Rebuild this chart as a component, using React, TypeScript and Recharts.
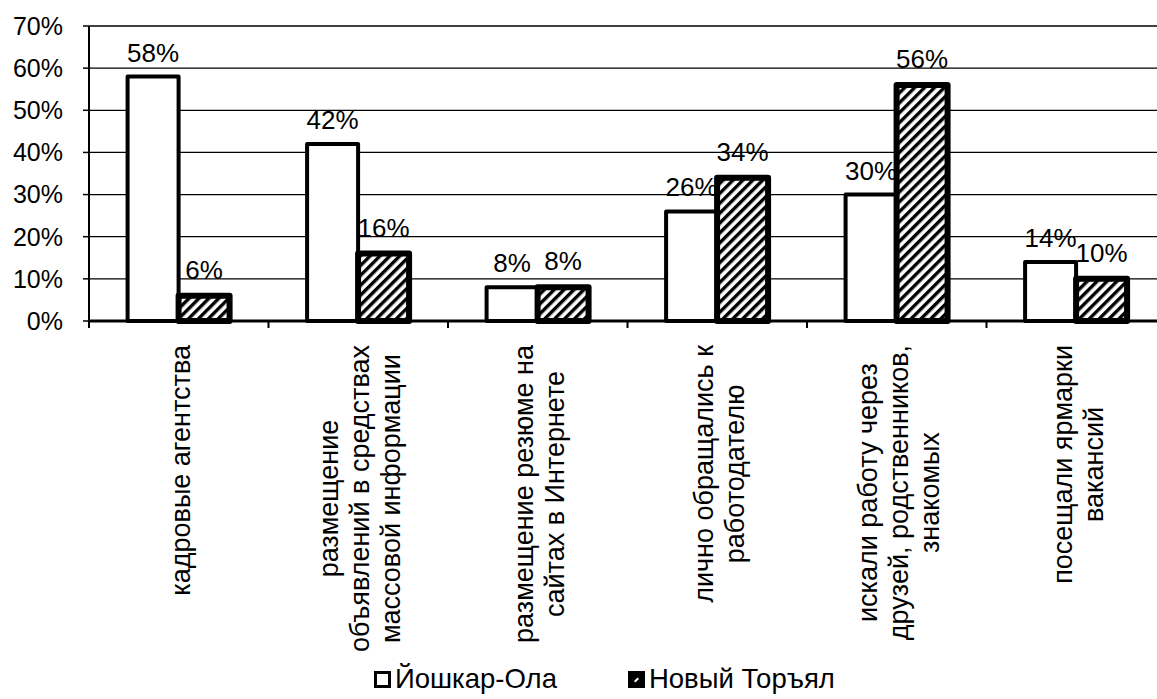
import React from 'react';
import { BarChart, Bar, XAxis, YAxis, CartesianGrid, LabelList } from 'recharts';

const categories = [
  'кадровые агентства',
  'размещение объявлений в средствах массовой информации',
  'размещение резюме на сайтах в Интернете',
  'лично обращались к работодателю',
  'искали работу через друзей, родственников, знакомых',
  'посещали ярмарки вакансий',
];
const categoryLines: string[][] = [
  ['кадровые агентства'],
  ['размещение', 'объявлений в средствах', 'массовой информации'],
  ['размещение резюме на', 'сайтах в Интернете'],
  ['лично обращались к', 'работодателю'],
  ['искали работу через', 'друзей, родственников,', 'знакомых'],
  ['посещали ярмарки', 'вакансий'],
];
const yoshkarOla = [58, 42, 8, 26, 30, 14];
const novyTorial = [6, 16, 8, 34, 56, 10];
const yTicks = [0, 10, 20, 30, 40, 50, 60, 70];
const seriesNames = ['Йошкар-Ола', 'Новый Торъял'];

const data = categories.map((name, i) => ({ name, a: yoshkarOla[i], b: novyTorial[i] }));

const FONT = "'Liberation Sans', Arial, Helvetica, sans-serif";
const FS = 25;
const CAT_FS = 27;
const CHART_W = 1170;
const CHART_H = 699;
const Y_W = 89;
const RIGHT = 4;
const PLOT_W = CHART_W - Y_W - RIGHT;
const BW = PLOT_W / categories.length;
const LINE_H = 31;

let ctx: CanvasRenderingContext2D | null = null;
const measure = (s: string) => {
  if (!ctx) ctx = document.createElement('canvas').getContext('2d');
  if (!ctx) return s.length * CAT_FS * 0.55;
  ctx.font = `${CAT_FS}px ${FONT}`;
  return ctx.measureText(s).width;
};

function CategoryTick(props: any) {
  const { x, y, payload, index } = props;
  const idx = payload && typeof payload.index === 'number' ? payload.index : index;
  const lines = categoryLines[idx] || [];
  const maxW = Math.max(...lines.map(measure));
  const top = y + 16;
  const cy = top + maxW / 2;
  const n = lines.length;
  return (
    <g>
      <line x1={x - BW / 2} x2={x - BW / 2} y1={y - 8} y2={y - 1} stroke="#000" strokeWidth={2} />
      {lines.map((l, i) => {
        const lx = x + (i - (n - 1) / 2) * LINE_H + 2;
        return (
          <text
            key={i}
            x={lx}
            y={cy}
            transform={`rotate(-90 ${lx} ${cy})`}
            textAnchor="middle"
            dominantBaseline="central"
            fontSize={CAT_FS}
            fontFamily={FONT}
            fill="#000"
          >
            {l}
          </text>
        );
      })}
    </g>
  );
}

const pct = (v: any) => `${v}%`;

export default function App() {
  return (
    <div style={{ position: 'fixed', left: 0, top: 0, width: 1157, height: 699, overflow: 'hidden', background: '#fff' }}>
      <BarChart
        width={CHART_W}
        height={CHART_H}
        data={data}
        margin={{ top: 26, right: RIGHT, left: 0, bottom: 0 }}
        barCategoryGap="21.5%"
        barGap={0}
      >
        <defs>
          <pattern id="hatch" patternUnits="userSpaceOnUse" width="7" height="7" patternTransform="rotate(45)">
            <rect x="0" y="0" width="7" height="7" fill="#fff" />
            <rect x="0" y="0" width="3.4" height="7" fill="#000" />
          </pattern>
        </defs>
        <CartesianGrid vertical={false} stroke="#000" strokeWidth={1.3} />
        <YAxis
          domain={[0, 70]}
          ticks={yTicks}
          interval={0}
          tickFormatter={pct}
          width={Y_W}
          tick={{ fontSize: FS, fill: '#000', fontFamily: FONT }}
          tickMargin={20}
          tickSize={6}
          axisLine={{ stroke: '#000', strokeWidth: 2 }}
          tickLine={{ stroke: '#000', strokeWidth: 1.5 }}
        />
        <XAxis
          dataKey="name"
          height={CHART_H - 26 - 295}
          interval={0}
          tickLine={false}
          axisLine={{ stroke: '#000', strokeWidth: 3 }}
          tick={<CategoryTick />}
        />
        <Bar dataKey="a" name={seriesNames[0]} fill="#fff" stroke="#000" strokeWidth={4} strokeLinejoin="round" isAnimationActive={false}>
          <LabelList dataKey="a" position="top" offset={15} formatter={pct} fontSize={26} fill="#000" fontFamily={FONT} />
        </Bar>
        <Bar dataKey="b" name={seriesNames[1]} fill="url(#hatch)" stroke="#000" strokeWidth={6} strokeLinejoin="round" isAnimationActive={false}>
          <LabelList dataKey="b" position="top" offset={17} formatter={pct} fontSize={26} fill="#000" fontFamily={FONT} />
        </Bar>
      </BarChart>
      <div style={{ position: 'absolute', left: 374, top: 664, height: 30, display: 'flex', alignItems: 'center', fontFamily: FONT, fontSize: 27.5, color: '#000', whiteSpace: 'nowrap' }}>
        <span style={{ display: 'inline-block', width: 11, height: 11, border: '3.5px solid #000', background: '#fff', marginRight: 4 }} />
        <span style={{ marginRight: 71 }}>{seriesNames[0]}</span>
        <span style={{ display: 'inline-block', width: 11, height: 11, border: '3.5px solid #000', background: '#000', marginRight: 4, position: 'relative' }}>
          <span style={{ position: 'absolute', left: 3, top: 5, width: 5, height: 2, background: '#fff', transform: 'rotate(-45deg)' }} />
        </span>
        <span>{seriesNames[1]}</span>
      </div>
    </div>
  );
}
